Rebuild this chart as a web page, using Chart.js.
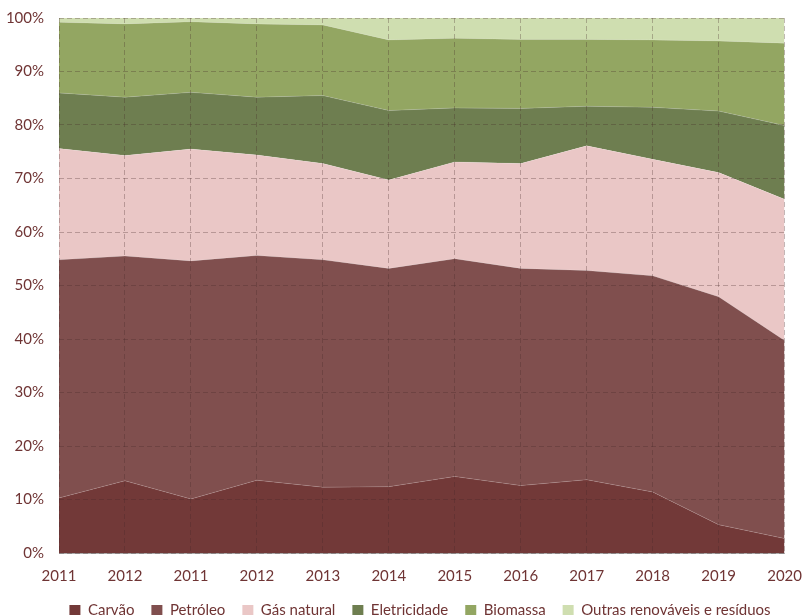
<!DOCTYPE html>
<html>
<head>
<meta charset="utf-8">
<script src="https://cdn.jsdelivr.net/npm/chart.js@4/dist/chart.umd.min.js"></script>
<style>
  html, body { margin: 0; padding: 0; background: #ffffff; overflow: hidden; }
  #wrap { width: 803px; height: 615px; position: relative; }
</style>
</head>
<body>
<div id="wrap"><canvas id="c" width="803" height="615"></canvas></div>
<script>
const categories = ['2011','2012','2011','2012','2013','2014','2015','2016','2017','2018','2019','2020'];
const carvao      = [10.3, 13.5, 10.1, 13.6, 12.3, 12.4, 14.3, 12.6, 13.7, 11.4, 5.3, 2.7];
const petroleo    = [44.5, 42.0, 44.5, 42.0, 42.5, 40.8, 40.7, 40.6, 39.1, 40.4, 42.6, 37.0];
const gasNatural  = [20.8, 18.8, 20.9, 18.8, 18.0, 16.5, 18.1, 19.6, 23.3, 21.8, 23.2, 26.4];
const eletricidade= [10.4, 10.9, 10.6, 10.8, 12.7, 13.0, 10.1, 10.3, 7.4, 9.7, 11.5, 13.8];
const biomassa    = [13.2, 13.7, 13.2, 13.7, 13.2, 13.2, 13.0, 12.9, 12.5, 12.6, 13.1, 15.4];
const outras      = [0.8, 1.1, 0.7, 1.1, 1.3, 4.1, 3.8, 4.0, 4.0, 4.1, 4.3, 4.7];
const seriesNames = ['Carvão','Petróleo','Gás natural','Eletricidade','Biomassa','Outras renováveis e resíduos'];
const seriesColors = ['#723938','#804f4e','#eac7c6','#6e7e50','#93a662','#cfdeb0'];

const seriesData = [carvao, petroleo, gasNatural, eletricidade, biomassa, outras];
const textColor = '#6f3434';
const gridColor = 'rgba(70,40,40,0.3)';
const FONT = { family: 'Lato', size: 15 };

const datasets = seriesData.map((d, i) => ({
  label: seriesNames[i],
  data: d,
  backgroundColor: seriesColors[i],
  borderColor: 'rgba(255,255,255,0.15)',
  borderWidth: 1,
  pointRadius: 0,
  fill: i === 0 ? 'origin' : '-1',
  tension: 0
}));

const legendShift = {
  id: 'legendShift',
  afterLayout(chart) {
    const lg = chart.legend;
    if (!lg) return;
    lg.left = 37;
    lg.right = chart.width;
    lg.width = lg.right - lg.left;
  }
};

new Chart(document.getElementById('c'), {
  type: 'line',
  data: { labels: categories, datasets },
  options: {
    responsive: false,
    animation: false,
    devicePixelRatio: 1,
    layout: { padding: { top: 0, right: 8, left: 0, bottom: -13 } },
    plugins: {
      legend: {
        position: 'bottom',
        labels: {
          color: textColor,
          font: FONT,
          boxWidth: 11,
          boxHeight: 11,
          padding: 17,
          generateLabels: (chart) => Chart.defaults.plugins.legend.labels.generateLabels(chart).map((it, i) => Object.assign(it, { fillStyle: seriesColors[i], strokeStyle: seriesColors[i], lineWidth: 0 }))
        }
      },
      tooltip: { enabled: false }
    },
    scales: {
      x: {
        offset: false,
        afterFit: (s) => { s.height = 33; },
        grid: { z: 1, color: gridColor, drawTicks: true, tickLength: 13, tickColor: 'rgba(0,0,0,0)' },
        border: { display: true, z: 1, color: 'rgba(150,150,150,0.8)', dash: [5,3] },
        ticks: { color: textColor, font: FONT, padding: 1, maxRotation: 0, autoSkip: false }
      },
      y: {
        stacked: true,
        min: 0,
        max: 100,
        afterFit: (s) => { s.width = 59; },
        grid: { z: 1, color: gridColor, drawTicks: true, tickLength: 6, tickColor: 'rgba(0,0,0,0)' },
        border: { display: false, dash: [5,3] },
        ticks: { stepSize: 10, color: textColor, font: FONT, padding: 9, callback: v => v + '%' }
      }
    }
  },
  plugins: [legendShift]
});
</script>
</body>
</html>
